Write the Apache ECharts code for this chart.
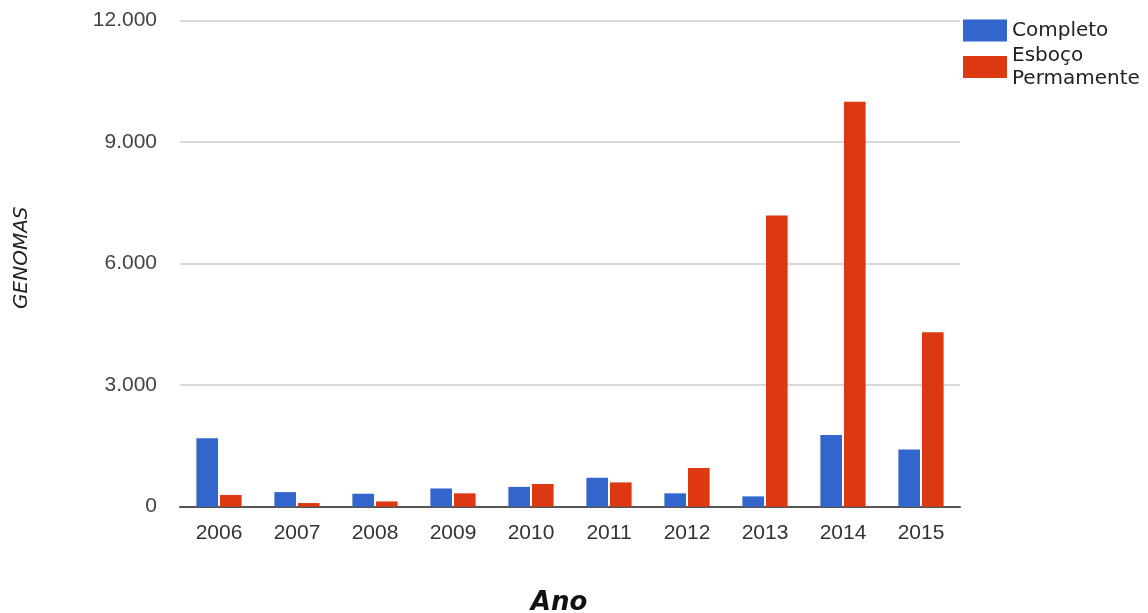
<!DOCTYPE html>
<html>
<head>
<meta charset="utf-8">
<style>
  html, body { margin: 0; padding: 0; background: #fff; }
  #chart { width: 1148px; height: 613px; }
</style>
<script src="https://cdn.jsdelivr.net/npm/echarts@6/dist/echarts.min.js"></script>
</head>
<body>
<div id="chart"></div>
<script>
// Genomes per year, by status
const years = ['2006', '2007', '2008', '2009', '2010', '2011', '2012', '2013', '2014', '2015'];
const completo = [1690, 360, 320, 450, 490, 715, 330, 255, 1770, 1415];
const esbocoPermanente = [290, 90, 130, 330, 560, 600, 955, 7190, 10000, 4310];
const seriesNames = ['Completo', 'Esboço\nPermamente'];
const seriesColors = ['#3366cc', '#dc3912'];

const chart = echarts.init(document.getElementById('chart'));

chart.setOption({
  animation: false,
  backgroundColor: '#ffffff',
  grid: { left: 180, right: 188, top: 20.7, bottom: 106.3, outerBoundsMode: 'none', containLabel: false },
  legend: {
    orient: 'vertical',
    left: 963,
    top: 19,
    padding: 0,
    itemWidth: 44,
    itemHeight: 22,
    itemGap: 2,
    icon: 'rect',
    data: seriesNames,
    textStyle: { fontFamily: 'DejaVu Sans', fontSize: 20, color: '#222', lineHeight: 23 }
  },
  xAxis: {
    type: 'category',
    data: years,
    name: 'Ano',
    nameLocation: 'middle',
    nameGap: 84,
    nameTextStyle: {
      fontFamily: 'DejaVu Sans', fontSize: 26, fontWeight: 'bold', fontStyle: 'italic', color: '#111',
      padding: [0, 22, 0, 0]
    },
    axisLine: { lineStyle: { color: '#555', width: 2 } },
    axisTick: { show: false },
    axisLabel: { fontFamily: 'Liberation Sans', fontSize: 21, color: '#333', margin: 16 }
  },
  yAxis: {
    type: 'value',
    min: 0,
    max: 12000,
    interval: 3000,
    name: 'GENOMAS',
    nameLocation: 'middle',
    nameGap: 148,
    nameTextStyle: {
      fontFamily: 'DejaVu Sans', fontSize: 20, fontStyle: 'italic', color: '#222',
      padding: [0, 0, 0, 12]
    },
    axisLine: { show: false },
    axisTick: { show: false },
    axisLabel: {
      fontFamily: 'Liberation Sans', fontSize: 21, color: '#444', margin: 23,
      formatter: v => v === 0 ? '0' : (v / 1000) + '.000'
    },
    splitLine: { lineStyle: { color: '#d9d9d9', width: 2 } }
  },
  series: [
    {
      name: seriesNames[0], type: 'bar', data: completo,
      itemStyle: { color: seriesColors[0] },
      barGap: '9%', barCategoryGap: '42%'
    },
    {
      name: seriesNames[1], type: 'bar', data: esbocoPermanente,
      itemStyle: { color: seriesColors[1] },
      barGap: '9%', barCategoryGap: '42%'
    }
  ]
});
</script>
</body>
</html>
